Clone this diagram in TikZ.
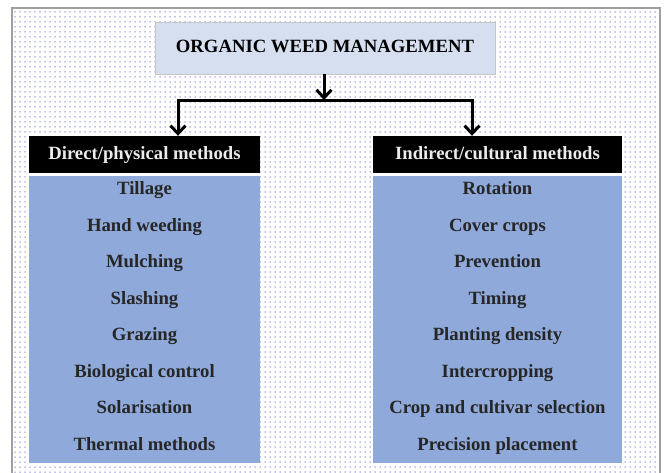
\documentclass[tikz,border=0pt]{standalone}
\usepackage{fontspec}
\setmainfont{Liberation Serif}
\usetikzlibrary{arrows.meta, patterns.meta}

\definecolor{titlefill}{HTML}{D6DFEF}
\definecolor{bodyfill}{HTML}{8EA9DA}
\definecolor{dotcolor}{HTML}{8484D6}

\tikzset{
    txt/.style={font=\bfseries\fontsize{18.7}{20}\selectfont},
    head/.style={txt, fill=black, text=white!92!black, minimum height=37pt, inner sep=0pt, text height=13pt, text depth=4pt},
    body/.style={fill=bodyfill, minimum height=287pt, inner sep=0pt},
    item/.style={txt, text=black!85, inner sep=0pt, text height=13pt, text depth=4pt},
    link/.style={line width=3pt, -{Straight Barb[length=8pt, width=15pt, line width=3pt]}}
}

\begin{document}
\begin{tikzpicture}[x=1pt, y=-1pt]
    \useasboundingbox (0, 0) rectangle (667, 472);
    \fill [white] (0, 0) rectangle (667, 472);
    \clip (0, 0) rectangle (667, 472);
    \fill [pattern={Dots[distance=5pt, radius=.75pt]}, pattern color=dotcolor] (12, 8) rectangle (660, 490);
    \draw [gray!75, line width=1.5pt] (12, 490) -- (12, 8) -- (660, 8) -- (660, 490);

    \node [txt, fill=titlefill, draw=gray!45, minimum width=340pt, minimum height=52pt, text height=13pt, text depth=4pt] (owm) at (325, 48) {ORGANIC WEED MANAGEMENT};
    \coordinate (split) at (324, 100);
    \coordinate (ljoin) at (178, 100);
    \coordinate (rjoin) at (472, 100);

    \node [head, minimum width=231pt] (dhead) at (144.5, 154.5) {Direct/physical methods};
    \node [head, minimum width=249pt] (ihead) at (497.5, 154.5) {Indirect/cultural methods};
    \node [body, minimum width=231pt, below=3pt] (dbody) at (dhead.south) {};
    \node [body, minimum width=249pt, below=3pt] (ibody) at (ihead.south) {};

    \draw [link] (owm.south -| split) -- (split);
    \draw [link] (split) -- (ljoin) -- (ljoin |- dhead.north);
    \draw [link] (split) -- (rjoin) -- (rjoin |- ihead.north);

    \foreach \name [count=\i] in {Tillage, Hand weeding, Mulching, Slashing, Grazing, Biological control, Solarisation, Thermal methods}
        \node [item] (d\i) at (144.5, 153.5 + 36.5*\i) {\name};
    \foreach \name [count=\i] in {Rotation, Cover crops, Prevention, Timing, Planting density, Intercropping, Crop and cultivar selection, Precision placement}
        \node [item] (c\i) at (497.5, 153.5 + 36.5*\i) {\name};
\end{tikzpicture}
\end{document}
